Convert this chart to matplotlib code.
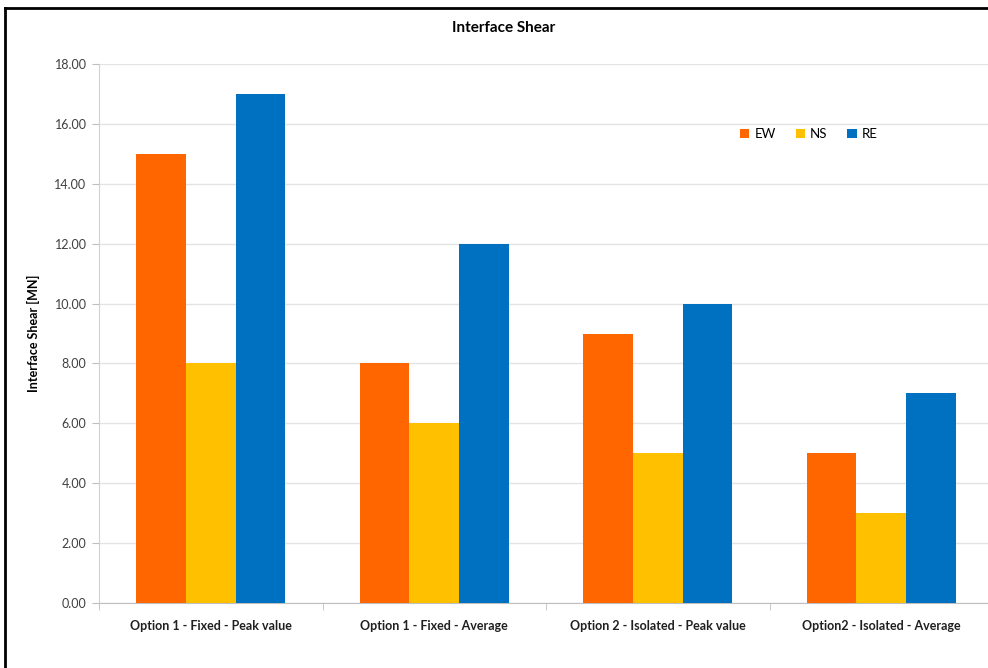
import numpy as np
import matplotlib.pyplot as plt
from matplotlib.lines import Line2D

categories = ['Option 1 - Fixed - Peak value', 'Option 1 - Fixed - Average',
              'Option 2 - Isolated - Peak value', 'Option2 - Isolated - Average']
series = ['EW', 'NS', 'RE']
ew = [15, 8, 9, 5]
ns = [8, 6, 5, 3]
re = [17, 12, 10, 7]
colors = ['#FF6600', '#FFC000', '#0070C0']
yticks = np.arange(0, 18.01, 2)


def main():
    plt.rcParams['font.family'] = ['Lato', 'DejaVu Sans']
    fig = plt.figure(figsize=(9.88, 6.68), dpi=100)
    ax = fig.add_axes([99 / 988, 65 / 668, 894 / 988, 539 / 668])

    x = np.arange(len(categories))
    w = 0.2225
    for i, (name, vals) in enumerate(zip(series, [ew, ns, re])):
        ax.bar(x + (i - 1) * w, vals, width=w, color=colors[i], label=name, zorder=3)

    ax.set_xlim(-0.5, len(categories) - 0.5)
    ax.set_ylim(0, 18)
    ax.set_yticks(yticks)
    ax.set_yticklabels([f'{v:.2f}' for v in yticks], color='#404040', fontsize=9)
    ax.set_xticks(x)
    ax.set_xticklabels(categories, fontsize=9, fontweight='bold', color='#202020')
    ax.set_xticks(np.arange(-0.5, len(categories)), minor=True)
    ax.tick_params(axis='x', which='major', length=0, pad=12)
    ax.tick_params(axis='x', which='minor', length=5, color='#BFBFBF')
    ax.tick_params(axis='y', length=5, color='#BFBFBF', pad=4)
    ax.grid(axis='y', color='#E3E3E3', linewidth=1, zorder=0)
    for s in ['top', 'right']:
        ax.spines[s].set_visible(False)
    ax.spines['left'].set_color('#D0D0D0')
    ax.spines['bottom'].set_color('#BFBFBF')

    ax.set_ylabel('Interface Shear [MN]', fontsize=9, fontweight='bold', labelpad=10)
    fig.text(504 / 988, 1 - 28 / 668, 'Interface Shear', ha='center', va='center',
             fontsize=11, fontweight='bold')

    fig.legend(loc='upper left', bbox_to_anchor=(728 / 988, 1 - 116 / 668), ncol=3,
               frameon=False, fontsize=9.5, handlelength=0.7, handleheight=0.7,
               handletextpad=0.4, columnspacing=1.5)

    # chart border (only left and top edges visible)
    fig.add_artist(Line2D([5 / 988, 5 / 988], [0, 1 - 8 / 668], color='black', linewidth=2,
                          transform=fig.transFigure))
    fig.add_artist(Line2D([5 / 988, 1], [1 - 8 / 668, 1 - 8 / 668], color='black', linewidth=2,
                          transform=fig.transFigure))

    fig.savefig('out.png', dpi=100)


if __name__ == '__main__':
    main()
